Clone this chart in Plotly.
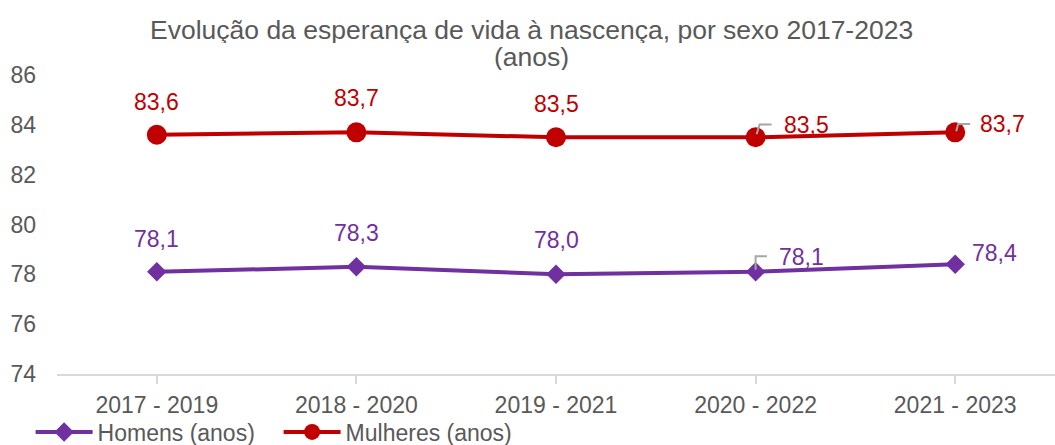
import plotly.graph_objects as go

categories = ["2017 - 2019", "2018 - 2020", "2019 - 2021", "2020 - 2022", "2021 - 2023"]
homens = [78.1, 78.3, 78.0, 78.1, 78.4]
mulheres = [83.6, 83.7, 83.5, 83.5, 83.7]
y_ticks = [74, 76, 78, 80, 82, 84, 86]

PURPLE = "#7030A0"
RED = "#C00000"
GREY = "#595959"
FONT = "Liberation Sans, Arial, sans-serif"

fig = go.Figure()
fig.add_trace(go.Scatter(
    x=categories, y=homens, name="Homens (anos)", mode="lines+markers",
    line=dict(color=PURPLE, width=4),
    marker=dict(symbol="diamond", size=15, color=PURPLE),
))
fig.add_trace(go.Scatter(
    x=categories, y=mulheres, name="Mulheres (anos)", mode="lines+markers",
    line=dict(color=RED, width=4),
    marker=dict(symbol="circle", size=20, color=RED),
))

def fmt(v):
    return f"{v:.1f}".replace(".", ",")

# label placements (pixel offsets)
w_off = [(0, 33, "center"), (0, 34, "center"), (0, 33, "center"), (26, 12, "left"), (23, 8.5, "left")]
h_off = [(0, 33, "center"), (0, 34, "center"), (0, 34, "center"), (21, 15, "left"), (15, 11.5, "left")]

for vals, offs, col in [(mulheres, w_off, RED), (homens, h_off, PURPLE)]:
    for c, v, (dx, dy, anc) in zip(categories, vals, offs):
        fig.add_annotation(x=c, y=v, text=fmt(v), showarrow=False,
                           xshift=dx, yshift=dy, xanchor=anc,
                           font=dict(size=23, color=col, family=FONT))

# leader lines
leaders = [(categories[3], mulheres[3], "M 1 3 L 4 12.7 L 16 12.7"),
           (categories[4], mulheres[4], "M 1 1 L 3 8.4 L 15 8.4"),
           (categories[3], homens[3], "M 0 2 L 0 15.7 L 11.3 15.7")]
for c, v, path in leaders:
    fig.add_shape(type="path", xref="x", yref="y", xsizemode="pixel", ysizemode="pixel",
                  xanchor=c, yanchor=v, path=path,
                  line=dict(color="#A6A6A6", width=2))

# title (two lines)
fig.add_annotation(xref="paper", yref="paper", x=0.4754, y=1 + 45 / 299,
                   xanchor="center", yanchor="middle", showarrow=False, height=26,
                   text="Evolução da esperança de vida à nascença, por sexo 2017-2023",
                   font=dict(size=26.5, color=GREY, family=FONT))
fig.add_annotation(xref="paper", yref="paper", x=0.4754, y=1 + 18 / 299,
                   xanchor="center", yanchor="middle", showarrow=False, height=26,
                   text="(anos)",
                   font=dict(size=26.5, color=GREY, family=FONT))

fig.update_layout(
    width=1055, height=445,
    margin=dict(l=57, r=0, t=75, b=71, autoexpand=False),
    paper_bgcolor="white", plot_bgcolor="white",
    font=dict(family=FONT, color=GREY, size=23),
    showlegend=True,
    legend=dict(orientation="h", xref="container", yref="container",
                x=0.029, y=(445 - 432) / 445, xanchor="left", yanchor="middle",
                font=dict(size=23, color=GREY, family=FONT),
                itemwidth=57,
                entrywidth=176, entrywidthmode="pixels",
                tracegroupgap=0, bgcolor="rgba(0,0,0,0)"),
)
fig.update_xaxes(
    type="category", range=[-0.5, 4.5], automargin=False,
    showline=True, linecolor="#D9D9D9", linewidth=2,
    ticks="outside", ticklen=8, tickcolor="#D9D9D9", tickwidth=2,
    showgrid=False, tickfont=dict(size=23, color=GREY), ticklabelstandoff=1,
)
fig.update_yaxes(
    range=[74, 86], tickvals=y_ticks, showgrid=False, zeroline=False, automargin=False,
    showline=False, tickfont=dict(size=23, color=GREY), ticklabelstandoff=20,
)

fig.write_html("out.html", config={"displayModeBar": False},
               post_script="document.body.style.margin='0px';")
